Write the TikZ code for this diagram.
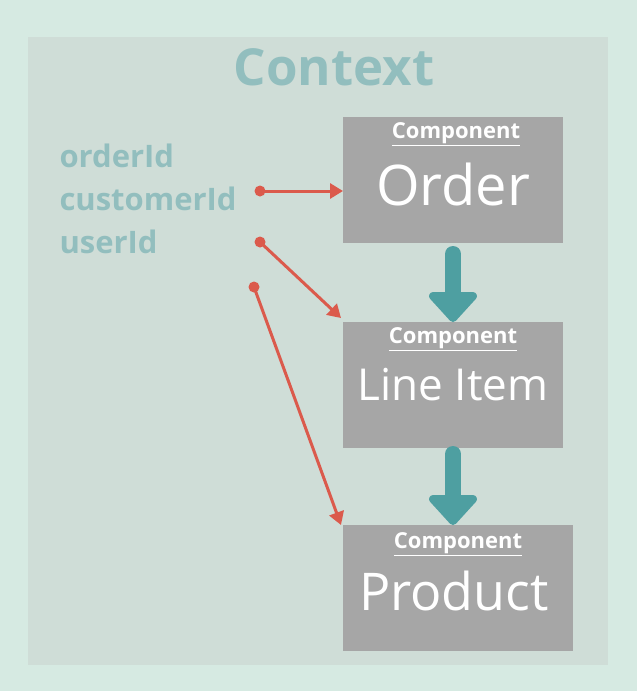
\documentclass[tikz,border=0pt]{standalone}
\usepackage{fontspec}
\setmainfont{Open Sans}
\usetikzlibrary{arrows.meta}
\definecolor{bgout}{HTML}{D6EAE2}
\definecolor{bgin}{HTML}{CFDDD7}
\definecolor{boxg}{HTML}{A6A6A6}
\definecolor{teal}{HTML}{4E9FA1}
\definecolor{lbl}{HTML}{92BEBE}
\definecolor{redc}{HTML}{DB5A4C}
\tikzset{
  comp/.style={fill=boxg,draw=none,minimum width=220pt,minimum height=126pt,anchor=north west,inner sep=0pt},
  ctitle/.style={text=white,font=\bfseries\fontsize{22}{24}\selectfont},
  cname/.style={text=white},
  lab/.style={text=lbl,font=\bfseries\fontsize{31}{34}\selectfont,anchor=west},
  ref/.style={draw=redc,line width=3pt,-{Triangle[length=13pt,width=15pt]}},
  dot/.style={circle,fill=redc,inner sep=0pt,minimum size=11pt},
  flow/.style={draw=teal,line width=16pt,line cap=round,-{Triangle[length=32pt,width=56pt,round]}}
}
\begin{document}
\begin{tikzpicture}[x=1pt,y=-1pt]
\fill[bgout] (0,0) rectangle (637,691);
\fill[bgin] (28,37) rectangle (608,665);
\node[text=lbl,font=\bfseries\fontsize{51}{54}\selectfont] (ctx) at (334,67) {Context};
\node[lab] (l1) at (56,156) {orderId};
\node[lab] (l2) at (56,199) {customerId};
\node[lab] (l3) at (56,242) {userId};
\node[comp] (o) at (343,117) {};
\node[comp] (li) at (343,322) {};
\node[comp,minimum width=230pt] (p) at (343,525) {};
\node[ctitle] at (456,134) {\underline{Component}};
\node[cname,font=\fontsize{56}{60}\selectfont] at (453,184) {Order};
\node[ctitle] at (453,339) {\underline{Component}};
\node[cname,font=\fontsize{44}{48}\selectfont] at (453,385) {Line Item};
\node[ctitle] at (458,544) {\underline{Component}};
\node[cname,font=\fontsize{52}{56}\selectfont] at (454,591) {Product};
\draw[flow] (453,254) -- (li.north -| 453,0);
\draw[flow] (453,454) -- (p.north -| 453,0);
\node[dot] (d1) at (260,191) {};
\node[dot] (d2) at (260,242) {};
\node[dot] (d3) at (254,287) {};
\draw[ref] (d1.center) -- (o.west |- d1);
\coordinate (e2) at (341,318);
\coordinate (e3) at (341,525);
\draw[ref] (d2.center) -- (e2);
\draw[ref] (d3.center) -- (e3);
\end{tikzpicture}
\end{document}
